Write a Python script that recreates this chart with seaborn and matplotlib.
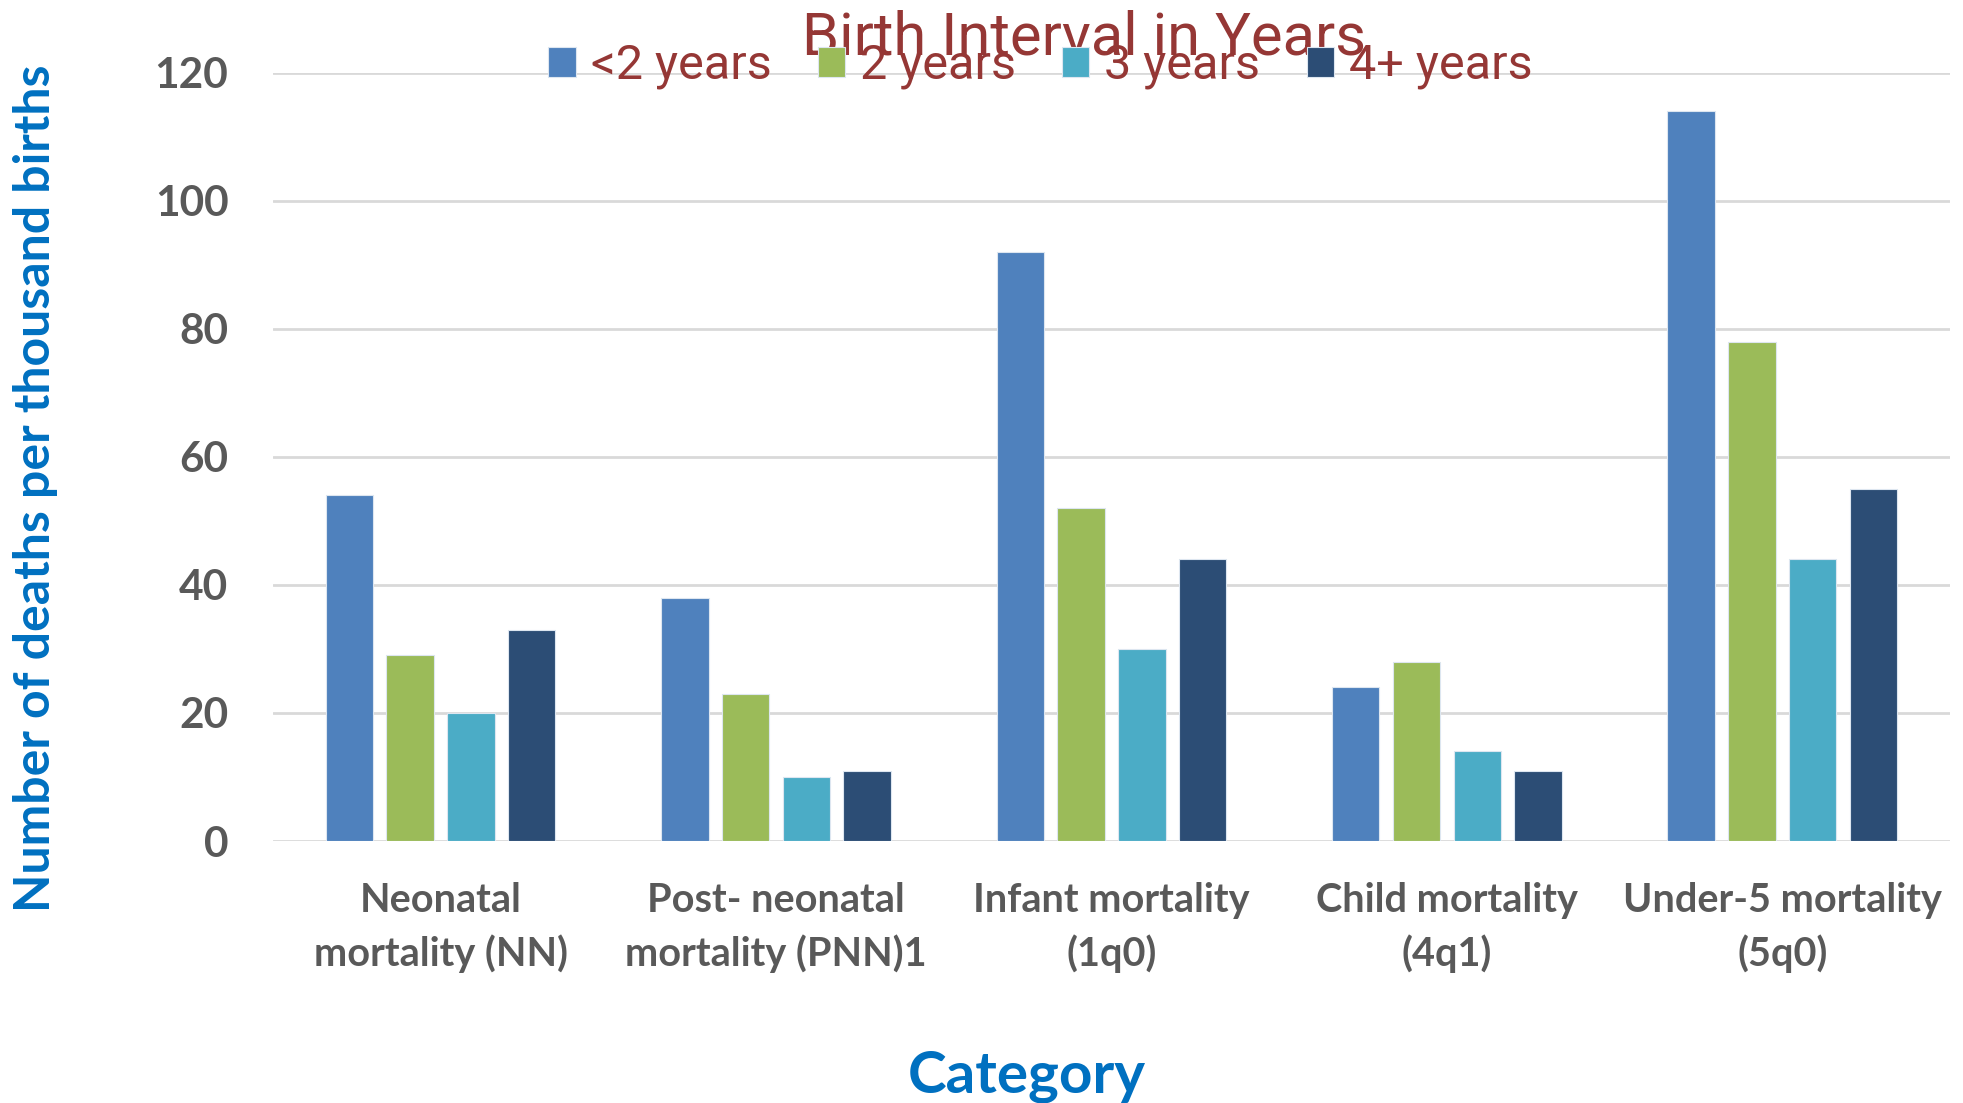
import matplotlib
matplotlib.use("Agg")
import matplotlib.pyplot as plt
import seaborn as sns
import pandas as pd

categories = ["Neonatal\nmortality (NN)", "Post- neonatal\nmortality (PNN)1",
              "Infant mortality\n(1q0)", "Child mortality\n(4q1)", "Under-5 mortality\n(5q0)"]
series_names = ["<2 years", "2 years", "3 years", "4+ years"]
lt2_years = [54, 38, 92, 24, 114]
two_years = [29, 23, 52, 28, 78]
three_years = [20, 10, 30, 14, 44]
four_plus_years = [33, 11, 44, 11, 55]
y_ticks = [0, 20, 40, 60, 80, 100, 120]

colors = ["#4F81BD", "#9BBB59", "#4BACC6", "#2C4D75"]

rows = []
for name, vals in zip(series_names, [lt2_years, two_years, three_years, four_plus_years]):
    for cat, v in zip(categories, vals):
        rows.append({"Category": cat, "Interval": name, "Deaths": v})
df = pd.DataFrame(rows)

sns.set_theme(style="white")
plt.rcParams["font.family"] = ["Lato", "DejaVu Sans"]

fig = plt.figure(figsize=(19.63, 11.03), dpi=100)
ax = fig.add_axes([0.139, 0.2375, 0.8544, 0.6967])

sns.barplot(data=df, x="Category", y="Deaths", hue="Interval", order=categories,
            hue_order=series_names, palette=colors, width=0.725, gap=0.22,
            saturation=1, errorbar=None, ax=ax, edgecolor="#DDE6F0", linewidth=0.8)

ax.set_ylim(0, 120)
ax.set_xlim(-0.5, len(categories) - 0.5)
ax.set_yticks(y_ticks)
ax.yaxis.grid(True, color="#D9D9D9", linewidth=2)
ax.set_axisbelow(True)
for s in ax.spines.values():
    s.set_visible(False)
ax.tick_params(axis="y", length=0, pad=32, labelsize=30.5, labelcolor="#595959")
ax.tick_params(axis="x", length=0, pad=29.5, labelsize=28.5, labelcolor="#595959")
for lbl in ax.get_yticklabels() + ax.get_xticklabels():
    lbl.set_fontweight("bold")
for lbl in ax.get_xticklabels():
    lbl.set_linespacing(1.5)
ax.set_xlabel("")
ax.set_ylabel("")

handles, labels = ax.get_legend_handles_labels()
ax.get_legend().remove()
title_font = ["Roboto", "DejaVu Sans"]
fig.legend(handles, labels, loc="center", bbox_to_anchor=(0.530, 0.940), ncol=4,
           frameon=False, prop={"family": title_font, "size": 35},
           handlelength=0.56, handleheight=0.56, handletextpad=0.31,
           columnspacing=0.95, labelcolor="#953735", borderaxespad=0)

fig.text(0.552, 0.951, "Birth Interval in Years", ha="center", va="baseline",
         color="#953735", fontsize=43, family=title_font)

fig.text(0.018, 0.557, "Number of deaths per thousand births", rotation=90,
         ha="center", va="center", color="#0070C0", fontsize=36, fontweight="bold")
fig.text(0.523, 0.024, "Category", ha="center", va="center", color="#0070C0",
         fontsize=42, fontweight="bold")

fig.savefig("out.png", dpi=100)
